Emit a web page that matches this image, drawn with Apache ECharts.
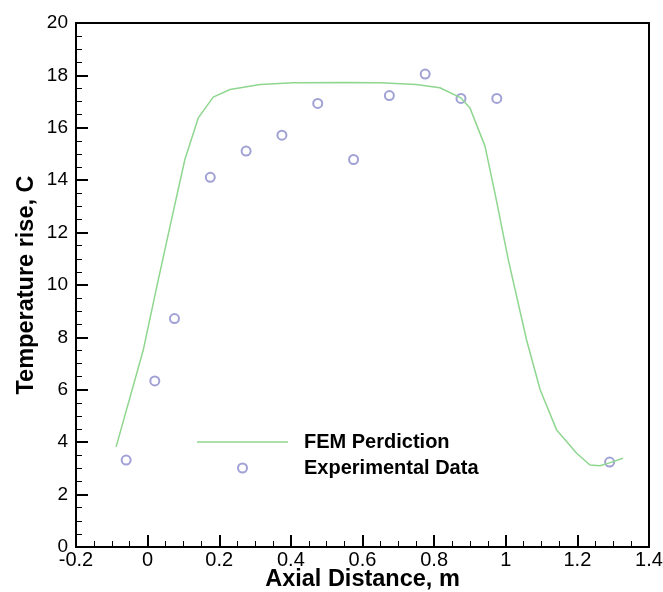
<!DOCTYPE html>
<html>
<head>
<meta charset="utf-8">
<script src="https://cdn.jsdelivr.net/npm/echarts@6/dist/echarts.min.js"></script>
<style>
html,body{margin:0;padding:0;background:#fff;}
#chart{width:663px;height:592px;}
</style>
</head>
<body>
<div id="chart"></div>
<script>
// FEM prediction curve
const femX = [-0.088, -0.012, 0.025, 0.0625, 0.104, 0.1416, 0.183, 0.23, 0.314, 0.407, 0.55, 0.649, 0.75, 0.816, 0.875, 0.90, 0.942, 0.97, 1.007, 1.058, 1.096, 1.142, 1.198, 1.235, 1.263, 1.292, 1.327];
const femY = [3.82, 7.53, 9.9, 12.24, 14.79, 16.38, 17.17, 17.46, 17.65, 17.72, 17.73, 17.72, 17.65, 17.53, 17.14, 16.76, 15.3, 13.5, 10.97, 7.91, 6.0, 4.47, 3.58, 3.13, 3.10, 3.22, 3.39];
// Experimental data
const expX = [-0.06, 0.02, 0.075, 0.175, 0.275, 0.375, 0.475, 0.575, 0.675, 0.775, 0.875, 0.975, 1.29];
const expY = [3.32, 6.34, 8.72, 14.11, 15.11, 15.72, 16.93, 14.79, 17.23, 18.05, 17.12, 17.12, 3.24];

const xTicks = {min: -0.2, max: 1.4, interval: 0.2};
const yTicks = {min: 0, max: 20, interval: 2};

const green = '#8fd68f';
const purple = '#8a8acc';
const chart = echarts.init(document.getElementById('chart'), null, {renderer: 'canvas'});
const font = 'Liberation Sans, Arial, sans-serif';
chart.setOption({
  animation: false,
  backgroundColor: '#fff',
  grid: {left: 76, right: 14, top: 23, bottom: 45, outerBoundsMode: 'none', containLabel: false,
         show: true, borderColor: '#000', borderWidth: 2, backgroundColor: 'transparent'},
  legend: {
    orient: 'vertical', left: 197, top: 432, padding: 0, itemWidth: 91, itemHeight: 9, itemGap: 6,
    textStyle: {fontFamily: font, fontSize: 20, fontWeight: 'bold', color: '#000', padding: [0,0,0,11]},
    data: [
      {name: 'FEM Perdiction', icon: 'path://M0,0 L100,0 L100,1.6 L0,1.6 Z', itemStyle: {color: green}},
      {name: 'Experimental Data'}
    ]
  },
  xAxis: {
    type: 'value', min: xTicks.min, max: xTicks.max, interval: xTicks.interval,
    name: 'Axial Distance, m', nameLocation: 'middle', nameGap: 21, nameMoveOverlap: false,
    nameTextStyle: {fontFamily: font, fontSize: 23.5, fontWeight: 'bold', color: '#000'},
    axisLine: {show: true, onZero: false, lineStyle: {color: '#000', width: 2}},
    axisTick: {show: true, inside: true, length: 12, lineStyle: {color: '#000', width: 2}},
    minorTick: {show: true, splitNumber: 4, length: 6, lineStyle: {color: '#000', width: 1}},
    axisLabel: {fontFamily: font, fontSize: 20, color: '#000', margin: 3},
    splitLine: {show: false}
  },
  yAxis: {
    type: 'value', min: yTicks.min, max: yTicks.max, interval: yTicks.interval,
    name: 'Temperature rise, C', nameLocation: 'middle', nameGap: 37, nameMoveOverlap: false,
    nameTextStyle: {fontFamily: font, fontSize: 23.5, fontWeight: 'bold', color: '#000'},
    axisLine: {show: true, onZero: false, lineStyle: {color: '#000', width: 2}},
    axisTick: {show: true, inside: true, length: 12, lineStyle: {color: '#000', width: 2}},
    minorTick: {show: true, splitNumber: 4, length: 6, lineStyle: {color: '#000', width: 1}},
    axisLabel: {fontFamily: font, fontSize: 19, color: '#000', margin: 8},
    splitLine: {show: false}
  },
  series: [
    {
      name: 'FEM Perdiction', type: 'line', symbol: 'none', smooth: false,
      lineStyle: {color: green, width: 1.5}, itemStyle: {color: green},
      data: femX.map((x, i) => [x, femY[i]])
    },
    {
      name: 'Experimental Data', type: 'scatter', symbol: 'emptyCircle', symbolSize: 9,
      itemStyle: {color: purple, borderColor: purple, borderWidth: 1.2},
      data: expX.map((x, i) => [x, expY[i]])
    }
  ]
});
</script>
</body>
</html>
